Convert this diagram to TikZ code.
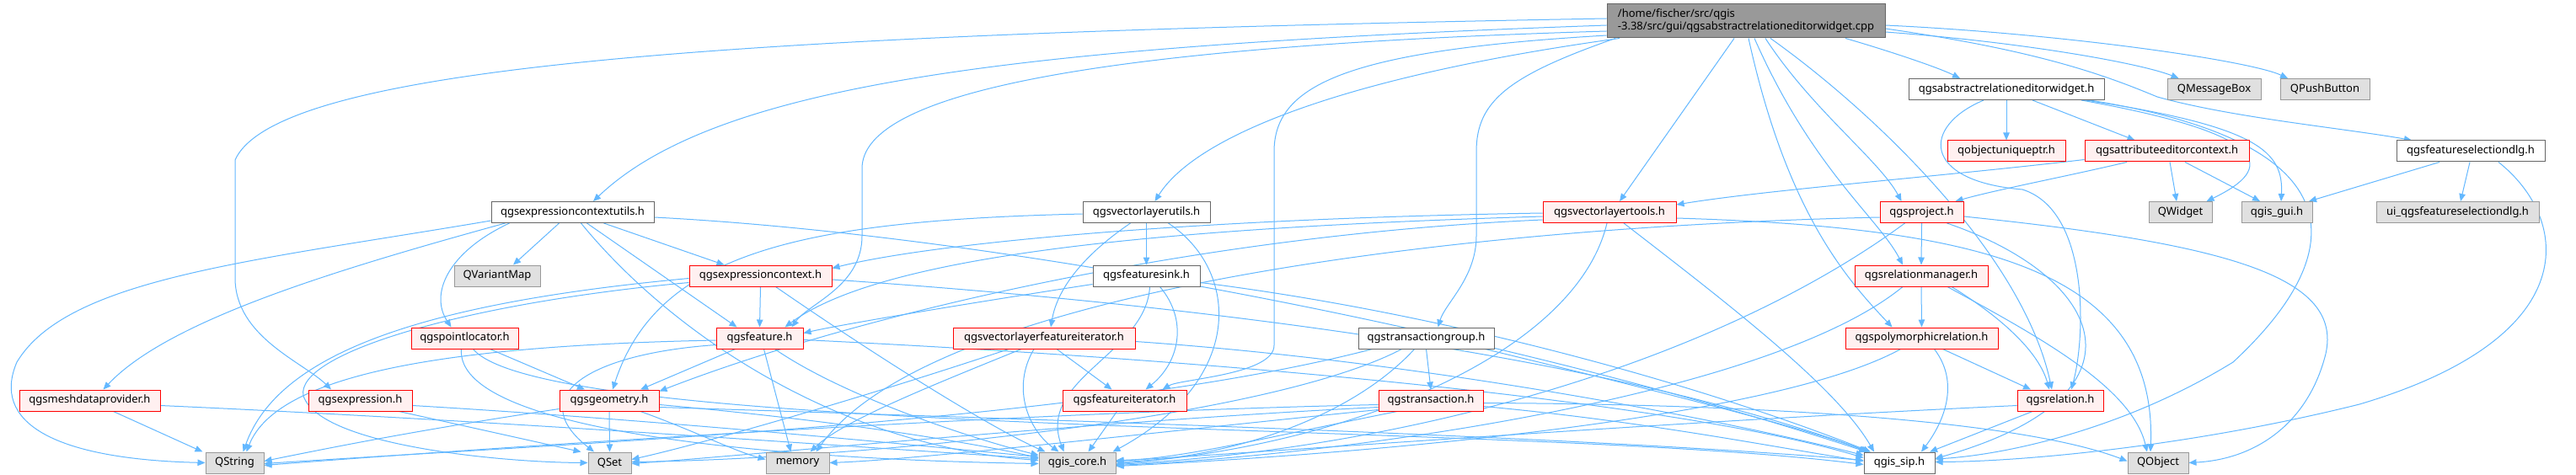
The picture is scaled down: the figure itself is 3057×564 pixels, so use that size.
\documentclass[tikz,border=0pt]{standalone}
\usepackage{fontspec}
\setmainfont{Noto Sans}
\usetikzlibrary{arrows.meta}
\definecolor{edgeblue}{HTML}{63B8FF}
\definecolor{greyborder}{HTML}{666666}
\definecolor{extborder}{HTML}{999999}
\definecolor{extfill}{HTML}{E0E0E0}
\definecolor{rootfill}{HTML}{999999}
\definecolor{redfill}{HTML}{FFF0F0}
\definecolor{redborder}{HTML}{FF0000}
\pgfdeclarelayer{bg}
\pgfsetlayers{bg,main}
\begin{document}
\begin{tikzpicture}[x=1pt,y=-1pt,
 nd/.style={rectangle, minimum height=25pt, inner sep=0pt, line width=1pt, font=\fontsize{13}{15}\selectfont, text=black},
 plainnode/.style={nd, draw=greyborder, fill=white},
 rednode/.style={nd, draw=redborder, fill=redfill},
 extnode/.style={nd, draw=extborder, fill=extfill},
 rootnode/.style={nd, draw=greyborder, fill=rootfill, minimum height=40pt, align=left},
 dep/.style={draw=edgeblue, line width=1pt, -{Triangle[length=9pt,width=7.5pt]}}
]
\useasboundingbox (0,0) rectangle (3057,564);
% nodes
\node[rootnode, minimum width=330pt] (root) at (2072,25) {/home/fischer/src/qgis\\-3.38/src/gui/qgsabstractrelationeditorwidget.cpp};
\node[plainnode, minimum width=232pt] (arew) at (2381,106) {qgsabstractrelationeditorwidget.h};
\node[extnode, minimum width=111pt] (qmb) at (2627.5,106) {QMessageBox};
\node[extnode, minimum width=106pt] (qpb) at (2759,106) {QPushButton};
\node[rednode, minimum width=140pt] (qoup) at (2381,179.5) {qobjectuniqueptr.h};
\node[rednode, minimum width=195pt] (aec) at (2571.5,179.5) {qgsattributeeditorcontext.h};
\node[plainnode, minimum width=176pt] (fsd) at (2932,179.5) {qgsfeatureselectiondlg.h};
\node[plainnode, minimum width=193pt] (ecu) at (679.5,252) {qgsexpressioncontextutils.h};
\node[plainnode, minimum width=151pt] (vlu) at (1360.5,252) {qgsvectorlayerutils.h};
\node[rednode, minimum width=158pt] (vlt) at (1910,252) {qgsvectorlayertools.h};
\node[rednode, minimum width=99pt] (proj) at (2280.5,252) {qgsproject.h};
\node[extnode, minimum width=75pt] (qwid) at (2587.5,252) {QWidget};
\node[extnode, minimum width=84pt] (gui) at (2702,252) {qgis\_gui.h};
\node[extnode, minimum width=193pt] (uifsd) at (2916.5,252) {ui\_qgsfeatureselectiondlg.h};
\node[extnode, minimum width=102pt] (qvm) at (590,327.5) {QVariantMap};
\node[rednode, minimum width=169pt] (ec) at (902.5,327.5) {qgsexpressioncontext.h};
\node[plainnode, minimum width=127pt] (fsink) at (1360.5,327.5) {qgsfeaturesink.h};
\node[rednode, minimum width=158pt] (relm) at (2280,327.5) {qgsrelationmanager.h};
\node[rednode, minimum width=127pt] (ploc) at (551.5,401.5) {qgspointlocator.h};
\node[rednode, minimum width=103pt] (feat) at (901.5,401.5) {qgsfeature.h};
\node[rednode, minimum width=216pt] (vlfi) at (1239,401.5) {qgsvectorlayerfeatureiterator.h};
\node[plainnode, minimum width=161pt] (tg) at (1692.5,401.5) {qgstransactiongroup.h};
\node[rednode, minimum width=181pt] (prel) at (2280.5,401.5) {qgspolymorphicrelation.h};
\node[rednode, minimum width=167pt] (mdp) at (106.5,475.5) {qgsmeshdataprovider.h};
\node[rednode, minimum width=123pt] (expr) at (427.5,475.5) {qgsexpression.h};
\node[rednode, minimum width=118pt] (geom) at (723,475.5) {qgsgeometry.h};
\node[rednode, minimum width=147pt] (fit) at (1334.5,475.5) {qgsfeatureiterator.h};
\node[rednode, minimum width=124pt] (tr) at (1698,475.5) {qgstransaction.h};
\node[rednode, minimum width=102pt] (rel) at (2445,475.5) {qgsrelation.h};
\node[extnode, minimum width=69pt] (qstr) at (278.5,549.5) {QString};
\node[extnode, minimum width=51pt] (qset) at (723.5,549.5) {QSet};
\node[extnode, minimum width=75pt] (mem) at (946.5,549.5) {memory};
\node[extnode, minimum width=91pt] (core) at (1278.5,549.5) {qgis\_core.h};
\node[plainnode, minimum width=84pt] (sip) at (2254,549.5) {qgis\_sip.h};
\node[extnode, minimum width=72pt] (qobj) at (2561,549.5) {QObject};
\begin{pgfonlayer}{bg}
\fill[white] (0,0) rectangle (3057,564);
% root
\draw[dep] ([xshift=118pt]root.south) .. controls (2240,60) and (2300,80) .. ([xshift=-55pt]arew.north);
\draw[dep] ([yshift=-13pt]root.east) .. controls (2400,50) and (2540,75) .. ([xshift=-42pt]qmb.north);
\draw[dep] ([yshift=-5pt]root.east) .. controls (2450,40) and (2670,72) .. ([xshift=-44pt]qpb.north);
\draw[dep] ([yshift=-9pt]root.east) .. controls (2420,60) and (2500,90) .. (2560,115) .. controls (2650,140) and (2780,152) .. ([xshift=-70pt]fsd.north);
\draw[dep] ([yshift=-5pt]root.west) .. controls (1200,55) and (850,100) .. ([xshift=24.5pt]ecu.north);
\draw[dep] ([yshift=3pt]root.west) .. controls (900,40) and (330,75) .. (279,190) -- (279,330) .. controls (279,400) and (360,430) .. ([xshift=-34.5pt]expr.north);
\draw[dep] ([xshift=-150pt]root.south) .. controls (1600,90) and (1420,160) .. ([xshift=10pt]vlu.north);
\draw[dep] ([yshift=-12pt]root.west) .. controls (1300,55) and (1023,110) .. (1023,200) -- (1023,280) .. controls (1023,340) and (960,360) .. ([xshift=38pt]feat.north);
\draw[dep] ([yshift=-17pt]root.west) .. controls (1600,60) and (1512,100) .. (1512,180) -- (1512,410) .. controls (1512,445) and (1400,450) .. ([xshift=45pt]fit.north);
\draw[dep] ([xshift=-155pt]root.south) .. controls (1790,90) and (1752,120) .. (1752,180) -- (1752,280) .. controls (1752,330) and (1715,360) .. ([xshift=14pt]tg.north);
\draw[dep] ([xshift=-14pt]root.south) -- ([xshift=12pt]vlt.north);
\draw[dep] ([xshift=23pt]root.south) .. controls (2150,130) and (2230,190) .. ([xshift=-24pt]proj.north);
\draw[dep] ([xshift=10pt]root.south) .. controls (2150,200) and (2230,260) .. ([xshift=-22pt]relm.north);
\draw[dep] ([xshift=3pt]root.south) .. controls (2120,250) and (2190,330) .. ([xshift=-35pt]prel.north);
\draw[dep] ([xshift=29pt]root.south) .. controls (2220,130) and (2400,300) .. ([xshift=-10pt]rel.north);
% qgsabstractrelationeditorwidget.h
\draw[dep] (arew.south) -- (qoup.north);
\draw[dep] ([xshift=31pt]arew.south) -- ([xshift=-38pt]aec.north);
\draw[dep] ([xshift=89pt]arew.south) .. controls (2700,160) and (2700,200) .. ([xshift=31pt]qwid.north);
\draw[dep] ([xshift=94pt]arew.south) .. controls (2680,150) and (2710,180) .. ([xshift=5pt]gui.north);
\draw[dep] ([xshift=99pt]arew.south) .. controls (2800,170) and (2790,300) .. (2650,430) .. controls (2520,510) and (2380,540) .. ([yshift=4.5pt]sip.east);
\draw[dep] ([xshift=-27pt]arew.south) .. controls (2280,150) and (2280,215) .. (2400,225) .. controls (2480,250) and (2475,400) .. ([xshift=13pt]rel.north);
% qgsattributeeditorcontext.h
\draw[dep] ([xshift=3.5pt]aec.south) -- ([xshift=-4.5pt]qwid.north);
\draw[dep] ([xshift=21.5pt]aec.south) -- ([xshift=-20pt]gui.north);
\draw[dep] ([xshift=-47.5pt]aec.south) .. controls (2450,210) and (2370,225) .. ([xshift=40pt]proj.north);
\draw[dep] ([yshift=-10pt]aec.west) .. controls (2300,210) and (2100,225) .. ([yshift=9pt]vlt.east);
% qgsfeatureselectiondlg.h
\draw[dep] ([xshift=-37pt]fsd.south) -- ([xshift=38pt]gui.north);
\draw[dep] ([xshift=-1pt]fsd.south) -- ([xshift=3.5pt]uifsd.north);
\draw[dep] ([xshift=33pt]fsd.south) .. controls (3050,260) and (3070,400) .. (2800,480) .. controls (2600,530) and (2400,548) .. ([yshift=1pt]sip.east);
% qgsexpressioncontextutils.h
\draw[dep] ([yshift=-10pt]ecu.west) .. controls (300,310) and (80,330) .. (20,430) .. controls (-10,500) and (60,545) .. (qstr.west);
\draw[dep] ([xshift=-80pt]ecu.south) .. controls (400,320) and (200,380) .. ([xshift=16pt]mdp.north);
\draw[dep] ([xshift=-75pt]ecu.south) .. controls (530,300) and (510,350) .. ([xshift=-16pt]ploc.north);
\draw[dep] ([xshift=-16pt]ecu.south) -- ([xshift=19pt]qvm.north);
\draw[dep] ([xshift=37pt]ecu.south) -- ([xshift=-43pt]ec.north);
\draw[dep] ([xshift=17pt]ecu.south) -- ([xshift=-27pt]feat.north);
\draw[dep] ([xshift=10pt]ecu.south) .. controls (800,400) and (1000,530) .. ([yshift=3pt]core.west);
\draw[dep] ([yshift=-6pt]ecu.east) .. controls (1200,280) and (1800,400) .. ([xshift=-39pt]sip.north);
% qgsexpressioncontext.h
\draw[dep] (ec.south) -- (feat.north);
\draw[dep] ([yshift=-3pt]ec.west) .. controls (500,360) and (330,420) .. ([xshift=10pt]qstr.north);
\draw[dep] ([yshift=-8pt]ec.west) .. controls (550,360) and (350,420) .. (360,470) .. controls (380,530) and (600,549) .. (qset.west);
\draw[dep] ([xshift=18pt]ec.south) .. controls (1050,430) and (1180,510) .. ([xshift=-38pt]core.north);
\draw[dep] ([yshift=-4.5pt]ec.east) .. controls (1400,360) and (1900,420) .. ([xshift=-36pt]sip.north);
% qgsvectorlayerutils.h
\draw[dep] (vlu.south) -- (fsink.north);
\draw[dep] ([xshift=-19pt]vlu.south) .. controls (1290,300) and (1255,340) .. ([xshift=8pt]vlfi.north);
\draw[dep] ([xshift=26pt]vlu.south) .. controls (1470,320) and (1480,450) .. ([xshift=42pt]core.north);
\draw[dep] ([yshift=-2pt]vlu.west) .. controls (950,262) and (780,300) .. ([xshift=4pt]geom.north);
% qgsfeaturesink.h
\draw[dep] ([yshift=-10pt]fsink.west) .. controls (1150,360) and (1000,385) .. ([yshift=6pt]feat.east);
\draw[dep] ([xshift=16pt]fsink.south) .. controls (1410,380) and (1400,430) .. ([xshift=25pt]fit.north);
\draw[dep] ([xshift=4pt]fsink.south) .. controls (1360,420) and (1230,450) .. ([xshift=-16pt]core.north);
\draw[dep] ([yshift=-8pt]fsink.east) .. controls (1700,370) and (2000,450) .. ([xshift=-34pt]sip.north);
% qgspointlocator.h
\draw[dep] ([xshift=30pt]ploc.south) -- ([xshift=-29pt]geom.north);
\draw[dep] ([xshift=-4pt]ploc.south) .. controls (540,510) and (900,545) .. ([yshift=-1pt]core.west);
\draw[dep] ([xshift=10pt]ploc.south) .. controls (650,520) and (1800,500) .. ([yshift=-2pt]sip.west);
% qgsfeature.h
\draw[dep] ([xshift=-29pt]feat.south) -- ([xshift=37pt]geom.north);
\draw[dep] ([yshift=-2.5pt]feat.west) .. controls (550,410) and (330,440) .. ([xshift=14pt]qstr.north);
\draw[dep] ([yshift=-8pt]feat.west) .. controls (700,420) and (620,470) .. ([xshift=-18.5pt]qset.north);
\draw[dep] ([xshift=5pt]feat.south) -- ([xshift=-8pt]mem.north);
\draw[dep] ([xshift=18pt]feat.south) .. controls (1000,470) and (1150,520) .. ([yshift=9pt]core.west);
\draw[dep] ([yshift=-2pt]feat.east) .. controls (1500,430) and (2000,480) .. ([yshift=6pt]sip.west);
% qgsmeshdataprovider.h
\draw[dep] ([xshift=28pt]mdp.south) -- ([xshift=-38pt]qstr.north);
\draw[dep] ([yshift=-6pt]mdp.east) .. controls (600,500) and (1000,530) .. ([yshift=5pt]core.west);
% qgsexpression.h
\draw[dep] ([xshift=46pt]expr.south) -- ([xshift=-34pt]qset.north);
\draw[dep] ([yshift=-6pt]expr.east) .. controls (800,500) and (1100,530) .. ([yshift=7pt]core.west);
% qgsgeometry.h
\draw[dep] (geom.south) -- (qset.north);
\draw[dep] ([yshift=-10pt]geom.west) .. controls (500,510) and (400,530) .. ([yshift=2pt]qstr.east);
\draw[dep] ([xshift=37pt]geom.south) .. controls (820,510) and (870,535) .. ([yshift=4pt]mem.west);
\draw[dep] ([yshift=-5pt]geom.east) .. controls (1000,500) and (1150,525) .. ([yshift=6pt]core.west);
\draw[dep] ([yshift=-8pt]geom.east) .. controls (1300,500) and (1900,520) .. ([yshift=3pt]sip.west);
% qgsvectorlayertools.h
\draw[dep] ([yshift=-1pt]vlt.west) .. controls (1400,260) and (1100,290) .. ([yshift=9pt]ec.east);
\draw[dep] ([yshift=-5pt]vlt.west) .. controls (1400,270) and (1050,300) .. ([xshift=30pt]feat.north);
\draw[dep] ([yshift=-9pt]vlt.west) .. controls (1400,280) and (1000,380) .. ([yshift=11pt]geom.east);
\draw[dep] ([xshift=-3pt]vlt.south) .. controls (1870,420) and (1600,530) .. ([yshift=-1pt]core.east);
\draw[dep] ([xshift=17pt]vlt.south) .. controls (2050,360) and (2180,460) .. ([xshift=-30pt]sip.north);
\draw[dep] ([yshift=-7pt]vlt.east) .. controls (2350,270) and (2560,320) .. ([xshift=-9pt]qobj.north);
% qgsproject.h
\draw[dep] (proj.south) -- (relm.north);
\draw[dep] ([xshift=30pt]proj.south) .. controls (2500,330) and (2560,470) .. ([yshift=5pt]sip.east);
\draw[dep] ([yshift=-5pt]proj.east) .. controls (2650,290) and (2780,330) .. (2760,420) .. controls (2740,500) and (2680,545) .. (qobj.east);
\draw[dep] ([xshift=-20pt]proj.south) .. controls (2050,420) and (1700,530) .. ([yshift=-2pt]core.east);
\draw[dep] ([yshift=-6pt]proj.west) .. controls (1700,270) and (1100,350) .. ([xshift=22pt]mem.north);
% qgsrelationmanager.h
\draw[dep] (relm.south) -- (prel.north);
\draw[dep] ([xshift=36pt]relm.south) .. controls (2380,380) and (2420,420) .. ([xshift=-13pt]rel.north);
\draw[dep] ([xshift=31pt]relm.south) .. controls (2420,400) and (2530,460) .. ([xshift=-13pt]qobj.north);
\draw[dep] ([xshift=-22pt]relm.south) .. controls (2100,470) and (1600,540) .. ([yshift=-3pt]core.east);
% qgspolymorphicrelation.h
\draw[dep] ([xshift=25pt]prel.south) -- ([xshift=-35pt]rel.north);
\draw[dep] ([xshift=15pt]prel.south) .. controls (2330,460) and (2300,510) .. ([xshift=26pt]sip.north);
\draw[dep] ([xshift=-25pt]prel.south) .. controls (2100,500) and (1600,540) .. ([yshift=-4pt]core.east);
% qgsrelation.h
\draw[dep] ([xshift=-33pt]rel.south) -- ([xshift=36pt]sip.north);
\draw[dep] ([yshift=-6pt]rel.west) .. controls (2000,500) and (1600,530) .. ([yshift=2pt]core.east);
% qgstransactiongroup.h
\draw[dep] (tg.south) -- (tr.north);
\draw[dep] ([xshift=-64pt]tg.south) .. controls (1300,500) and (700,525) .. ([yshift=-1pt]qstr.east);
\draw[dep] ([xshift=-29pt]tg.south) .. controls (1500,500) and (1000,545) .. ([yshift=1pt]qset.east);
\draw[dep] ([xshift=-14pt]tg.south) .. controls (1600,500) and (1450,545) .. ([yshift=1pt]core.east);
\draw[dep] ([xshift=70pt]tg.south) .. controls (1950,460) and (2150,510) .. ([xshift=-38pt]sip.north);
% qgstransaction.h
\draw[dep] ([yshift=-5pt]tr.west) .. controls (1200,490) and (600,530) .. ([yshift=-3pt]qstr.east);
\draw[dep] ([yshift=-8pt]tr.west) .. controls (1300,500) and (900,540) .. ([yshift=-1pt]qset.east);
\draw[dep] ([yshift=-11pt]tr.west) .. controls (1400,510) and (1100,545) .. (mem.east);
\draw[dep] ([xshift=-40pt]tr.south) .. controls (1500,520) and (1400,545) .. ([yshift=3pt]core.east);
\draw[dep] ([yshift=-7pt]tr.east) .. controls (1950,500) and (2100,530) .. ([yshift=2pt]sip.west);
\draw[dep] ([yshift=-3pt]tr.east) .. controls (2100,480) and (2400,500) .. ([yshift=2pt]qobj.west);
% qgsvectorlayerfeatureiterator.h
\draw[dep] ([xshift=15pt]vlfi.south) -- ([xshift=-15pt]fit.north);
\draw[dep] ([xshift=-12pt]vlfi.south) .. controls (1200,460) and (1220,510) .. ([xshift=-22pt]core.north);
\draw[dep] ([xshift=-27pt]vlfi.south) .. controls (1100,460) and (1000,500) .. ([xshift=15pt]mem.north);
\draw[dep] ([xshift=-42pt]vlfi.south) .. controls (1000,480) and (820,530) .. ([yshift=4pt]qset.east);
\draw[dep] ([yshift=-4pt]vlfi.east) .. controls (1700,430) and (2050,500) .. ([yshift=9pt]sip.west);
% qgsfeatureiterator.h
\draw[dep] ([xshift=-9pt]fit.south) -- ([xshift=13pt]core.north);
\end{pgfonlayer}
\end{tikzpicture}
\end{document}
